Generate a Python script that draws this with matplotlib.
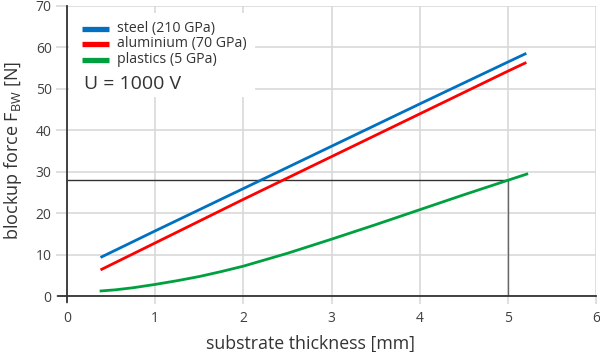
import matplotlib
matplotlib.use("Agg")
import matplotlib.pyplot as plt
from matplotlib.patches import Rectangle
from matplotlib.lines import Line2D

plt.rcParams['font.family'] = ['Open Sans', 'DejaVu Sans']
plt.rcParams['mathtext.fontset'] = 'custom'
plt.rcParams['mathtext.rm'] = 'Open Sans'
plt.rcParams['mathtext.it'] = 'Open Sans'

steel_x = [0.38, 1, 2, 3, 4, 5, 5.21]
steel_y = [9.3, 15.7, 25.9, 36.1, 46.3, 56.4, 58.5]
alu_x = [0.38, 1, 2, 3, 4, 5, 5.21]
alu_y = [6.3, 12.8, 23.3, 33.6, 43.9, 54.2, 56.3]
plast_x = [0.37, 0.55, 0.75, 1, 1.25, 1.5, 1.75, 2, 2.5, 3, 3.5, 4, 4.5, 5, 5.23]
plast_y = [1.2, 1.5, 2.0, 2.8, 3.7, 4.7, 5.9, 7.2, 10.3, 13.7, 17.2, 20.8, 24.4, 27.9, 29.5]
labels = ['steel (210 GPa)', 'aluminium (70 GPa)', 'plastics (5 GPa)']
colors = ['#0070c0', '#ff0000', '#00a040']
ref_x = 5
ref_y = 28
xticks = [0, 1, 2, 3, 4, 5, 6]
yticks = [0, 10, 20, 30, 40, 50, 60, 70]
annotation = 'U = 1000 V'

fig = plt.figure(figsize=(6, 3.52), dpi=100)
ax = fig.add_axes([0.1117, 0.159, 0.8816, 0.825])
ax.set_xlim(0, 6)
ax.set_ylim(0, 70)
ax.set_xticks(xticks)
ax.set_yticks(yticks)
ax.grid(True, color='#d9d9d9', lw=1.2, zorder=0)
ax.set_axisbelow(True)
for s in ['top', 'right']:
    ax.spines[s].set_visible(False)
for s in ['left', 'bottom']:
    ax.spines[s].set_color('#333333')
    ax.spines[s].set_linewidth(1.3)
ax.spines['left'].set_bounds(-1.5, 70)
ax.spines['bottom'].set_bounds(-0.1, 6)
ax.tick_params(color='#d9d9d9', labelsize=10, length=6, width=1.2, labelcolor='#404040', pad=5)
ax.tick_params(axis='y', length=8, pad=3)

ax.add_patch(Rectangle((0.003, 0.685), 0.352, 0.29, transform=ax.transAxes,
                       facecolor='white', edgecolor='none', zorder=1, clip_on=False))

ax.plot([0, ref_x], [ref_y, ref_y], color='#333333', lw=1, zorder=2)
ax.plot([ref_x, ref_x], [0, ref_y], color='#666666', lw=1, zorder=2)

for xs, ys, lab, c in zip([steel_x, alu_x, plast_x], [steel_y, alu_y, plast_y], labels, colors):
    ax.plot(xs, ys, color=c, lw=2, label=lab, zorder=3, solid_capstyle='butt')

# legend drawn manually for tight spacing
row_y = [0.9197, 0.868, 0.813]
for yy, lab, c in zip(row_y, labels, colors):
    ax.add_line(Line2D([0.0284, 0.0794], [yy, yy], transform=ax.transAxes, color=c,
                       lw=3.8, solid_capstyle='butt', zorder=5, clip_on=False))
    ax.text(0.0945, yy, lab, transform=ax.transAxes, fontsize=10.2, color='#333333',
            va='center', ha='left', zorder=5)

ax.text(0.032, 0.73, annotation, transform=ax.transAxes, fontsize=14,
        color='#333333', va='center', ha='left', zorder=5)

ax.set_xlabel('substrate thickness [mm]', fontsize=12.8, color='#333333')
ax.set_ylabel(r'blockup force F$_{\mathrm{BW}}$ [N]', fontsize=13, color='#333333')
ax.xaxis.set_label_coords(0.46, -0.135)
ax.yaxis.set_label_coords(-0.082, 0.5)

fig.savefig('out.png', dpi=100)
